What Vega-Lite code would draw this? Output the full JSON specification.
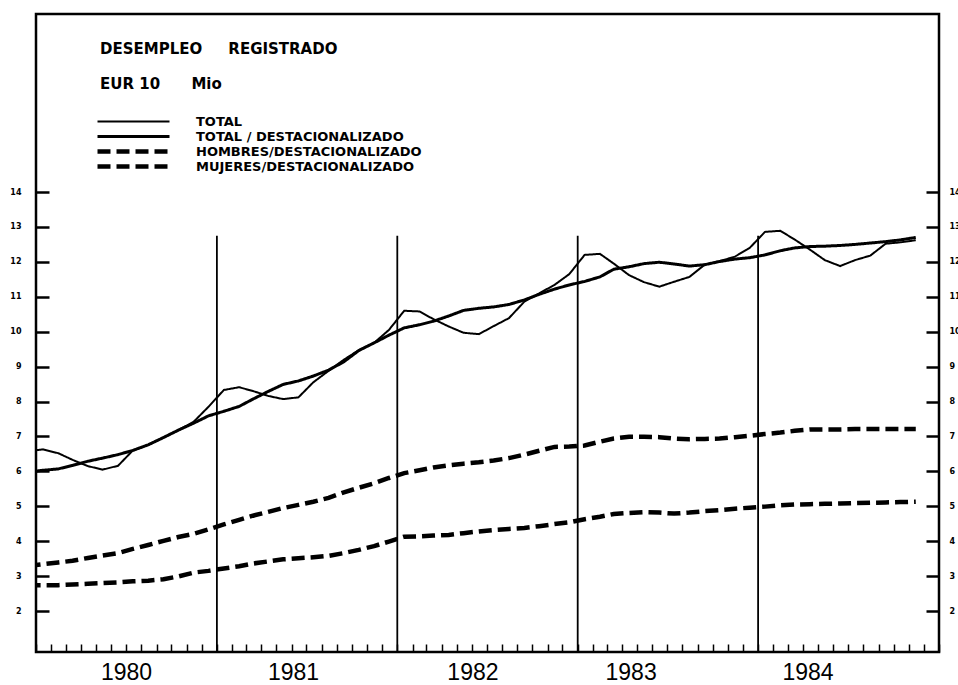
{
  "$schema": "https://vega.github.io/schema/vega-lite/v6.json",
  "width": 903,
  "height": 638,
  "autosize": {"type": "none"},
  "padding": {"left": 36, "top": 14, "right": 19, "bottom": 33},
  "background": "white",
  "config": {"view": {"stroke": "black", "strokeWidth": 2.5}, "font": "DejaVu Sans"},
  "title": {
    "text": "DESEMPLEO\u00a0\u00a0\u00a0\u00a0\u00a0REGISTRADO",
    "subtitle": "EUR 10\u00a0\u00a0\u00a0\u00a0\u00a0\u00a0Mio",
    "anchor": "start",
    "frame": "group",
    "orient": "top",
    "offset": -78,
    "dx": 64,
    "font": "DejaVu Sans",
    "fontSize": 15,
    "fontWeight": "bold",
    "color": "black",
    "subtitleFont": "DejaVu Sans",
    "subtitleFontSize": 15,
    "subtitleFontWeight": "bold",
    "subtitleColor": "black",
    "subtitlePadding": 20
  },
  "datasets": {
    "series": [
      {"d": "1979-12-15", "R": 6.57, "S": 5.98, "H": 3.29, "M": 2.74},
      {"d": "1980-01-15", "R": 6.63, "S": 6.03, "H": 3.34, "M": 2.74},
      {"d": "1980-02-15", "R": 6.52, "S": 6.07, "H": 3.39, "M": 2.74},
      {"d": "1980-03-15", "R": 6.33, "S": 6.17, "H": 3.44, "M": 2.76},
      {"d": "1980-04-15", "R": 6.15, "S": 6.29, "H": 3.52, "M": 2.78},
      {"d": "1980-05-15", "R": 6.05, "S": 6.38, "H": 3.59, "M": 2.80},
      {"d": "1980-06-15", "R": 6.16, "S": 6.48, "H": 3.66, "M": 2.82},
      {"d": "1980-07-15", "R": 6.60, "S": 6.60, "H": 3.78, "M": 2.85},
      {"d": "1980-08-15", "R": 6.76, "S": 6.76, "H": 3.89, "M": 2.87},
      {"d": "1980-09-15", "R": 6.97, "S": 6.97, "H": 4.01, "M": 2.91},
      {"d": "1980-10-15", "R": 7.18, "S": 7.18, "H": 4.12, "M": 2.99},
      {"d": "1980-11-15", "R": 7.42, "S": 7.38, "H": 4.21, "M": 3.10},
      {"d": "1980-12-15", "R": 7.85, "S": 7.59, "H": 4.34, "M": 3.15},
      {"d": "1981-01-15", "R": 8.33, "S": 7.72, "H": 4.48, "M": 3.22},
      {"d": "1981-02-15", "R": 8.41, "S": 7.86, "H": 4.61, "M": 3.28},
      {"d": "1981-03-15", "R": 8.30, "S": 8.07, "H": 4.73, "M": 3.36},
      {"d": "1981-04-15", "R": 8.16, "S": 8.29, "H": 4.84, "M": 3.42},
      {"d": "1981-05-15", "R": 8.07, "S": 8.49, "H": 4.95, "M": 3.48},
      {"d": "1981-06-15", "R": 8.12, "S": 8.59, "H": 5.04, "M": 3.51},
      {"d": "1981-07-15", "R": 8.55, "S": 8.73, "H": 5.13, "M": 3.54},
      {"d": "1981-08-15", "R": 8.88, "S": 8.90, "H": 5.24, "M": 3.58},
      {"d": "1981-09-15", "R": 9.20, "S": 9.14, "H": 5.40, "M": 3.66},
      {"d": "1981-10-15", "R": 9.47, "S": 9.46, "H": 5.53, "M": 3.75},
      {"d": "1981-11-15", "R": 9.68, "S": 9.68, "H": 5.66, "M": 3.86},
      {"d": "1981-12-15", "R": 10.05, "S": 9.90, "H": 5.81, "M": 3.99},
      {"d": "1982-01-15", "R": 10.60, "S": 10.11, "H": 5.95, "M": 4.13},
      {"d": "1982-02-15", "R": 10.58, "S": 10.20, "H": 6.03, "M": 4.14},
      {"d": "1982-03-15", "R": 10.36, "S": 10.30, "H": 6.11, "M": 4.16},
      {"d": "1982-04-15", "R": 10.15, "S": 10.45, "H": 6.17, "M": 4.18},
      {"d": "1982-05-15", "R": 9.97, "S": 10.61, "H": 6.22, "M": 4.23},
      {"d": "1982-06-15", "R": 9.93, "S": 10.67, "H": 6.26, "M": 4.28},
      {"d": "1982-07-15", "R": 10.16, "S": 10.71, "H": 6.31, "M": 4.32},
      {"d": "1982-08-15", "R": 10.39, "S": 10.78, "H": 6.38, "M": 4.35},
      {"d": "1982-09-15", "R": 10.86, "S": 10.91, "H": 6.48, "M": 4.38},
      {"d": "1982-10-15", "R": 11.10, "S": 11.07, "H": 6.59, "M": 4.43},
      {"d": "1982-11-15", "R": 11.34, "S": 11.22, "H": 6.70, "M": 4.49},
      {"d": "1982-12-15", "R": 11.65, "S": 11.34, "H": 6.71, "M": 4.54},
      {"d": "1983-01-15", "R": 12.20, "S": 11.44, "H": 6.74, "M": 4.63},
      {"d": "1983-02-15", "R": 12.23, "S": 11.57, "H": 6.85, "M": 4.70},
      {"d": "1983-03-15", "R": 11.95, "S": 11.79, "H": 6.94, "M": 4.78},
      {"d": "1983-04-15", "R": 11.62, "S": 11.86, "H": 6.99, "M": 4.81},
      {"d": "1983-05-15", "R": 11.42, "S": 11.95, "H": 6.99, "M": 4.83},
      {"d": "1983-06-15", "R": 11.29, "S": 11.99, "H": 6.98, "M": 4.82},
      {"d": "1983-07-15", "R": 11.43, "S": 11.94, "H": 6.94, "M": 4.79},
      {"d": "1983-08-15", "R": 11.57, "S": 11.88, "H": 6.92, "M": 4.82},
      {"d": "1983-09-15", "R": 11.92, "S": 11.92, "H": 6.93, "M": 4.86},
      {"d": "1983-10-15", "R": 12.02, "S": 12.01, "H": 6.94, "M": 4.89},
      {"d": "1983-11-15", "R": 12.15, "S": 12.08, "H": 6.98, "M": 4.93},
      {"d": "1983-12-15", "R": 12.40, "S": 12.12, "H": 7.02, "M": 4.96},
      {"d": "1984-01-15", "R": 12.86, "S": 12.20, "H": 7.07, "M": 4.99},
      {"d": "1984-02-15", "R": 12.89, "S": 12.32, "H": 7.11, "M": 5.03},
      {"d": "1984-03-15", "R": 12.64, "S": 12.40, "H": 7.16, "M": 5.05},
      {"d": "1984-04-15", "R": 12.35, "S": 12.44, "H": 7.20, "M": 5.06},
      {"d": "1984-05-15", "R": 12.05, "S": 12.45, "H": 7.20, "M": 5.07},
      {"d": "1984-06-15", "R": 11.88, "S": 12.47, "H": 7.20, "M": 5.08},
      {"d": "1984-07-15", "R": 12.05, "S": 12.50, "H": 7.21, "M": 5.09},
      {"d": "1984-08-15", "R": 12.18, "S": 12.54, "H": 7.21, "M": 5.10},
      {"d": "1984-09-15", "R": 12.52, "S": 12.58, "H": 7.21, "M": 5.11},
      {"d": "1984-10-15", "R": 12.56, "S": 12.63, "H": 7.21, "M": 5.12},
      {"d": "1984-11-15", "R": 12.62, "S": 12.70, "H": 7.21, "M": 5.13}
    ],
    "years": [
      {"date": "1981-01-01"},
      {"date": "1982-01-01"},
      {"date": "1983-01-01"},
      {"date": "1984-01-01"}
    ]
  },
  "resolve": {"axis": {"x": "independent", "y": "independent"}},
  "layer": [
    {
      "data": {"name": "series"},
      "transform": [{"fold": ["R", "S", "H", "M"], "as": ["serie", "v"]}],
      "mark": {"type": "line", "color": "black", "clip": true},
      "encoding": {
        "x": {
          "field": "d",
          "type": "temporal",
          "scale": {"domain": [{"year": 1980, "month": 1, "date": 1, "utc": true}, {"year": 1985, "month": 1, "date": 1, "utc": true}]},
          "axis": {"orient": "bottom", "tickCount": {"interval": "month", "step": 1}, "labels": false, "domain": false, "grid": false, "tickSize": -8, "tickWidth": 1.5, "tickColor": "black", "title": null}
        },
        "y": {
          "field": "v",
          "type": "quantitative",
          "scale": {"domain": [0.826, 19.1], "nice": false, "zero": false},
          "axis": {"orient": "left", "values": [2, 3, 4, 5, 6, 7, 8, 9, 10, 11, 12, 13, 14], "title": null, "domain": false, "grid": false, "tickSize": -13, "tickWidth": 2.5, "tickColor": "black", "labelPadding": 28, "labelFont": "DejaVu Sans", "labelFontSize": 8, "labelFontWeight": "bold", "labelColor": "black"}
        },
        "strokeDash": {
          "field": "serie",
          "type": "nominal",
          "scale": {"domain": ["R", "S", "H", "M"], "range": [[1, 0], [1, 0], [13, 6], [13, 6]]},
          "legend": {"orient": "none", "legendX": 59, "legendY": 101, "title": null, "symbolType": "stroke", "symbolSize": 5184, "symbolStrokeColor": "black", "clipHeight": 13, "rowPadding": 1, "labelOffset": 24, "labelFont": "DejaVu Sans", "labelFontSize": 13, "labelFontWeight": "bold", "labelColor": "black", "labelLimit": 500, "padding": 0,
            "labelExpr": "datum.label == 'R' ? 'TOTAL' : datum.label == 'S' ? 'TOTAL / DESTACIONALIZADO' : datum.label == 'H' ? 'HOMBRES/DESTACIONALIZADO' : 'MUJERES/DESTACIONALIZADO'"}
        },
        "strokeWidth": {
          "field": "serie",
          "type": "nominal",
          "scale": {"type": "ordinal", "domain": ["R", "S", "H", "M"], "range": [2, 3, 4.5, 4.5]},
          "legend": {"orient": "none", "legendX": 59, "legendY": 101, "title": null, "symbolType": "stroke", "symbolSize": 5184, "symbolStrokeColor": "black", "clipHeight": 13, "rowPadding": 1, "labelOffset": 24, "labelFont": "DejaVu Sans", "labelFontSize": 13, "labelFontWeight": "bold", "labelColor": "black", "labelLimit": 500, "padding": 0,
            "labelExpr": "datum.label == 'R' ? 'TOTAL' : datum.label == 'S' ? 'TOTAL / DESTACIONALIZADO' : datum.label == 'H' ? 'HOMBRES/DESTACIONALIZADO' : 'MUJERES/DESTACIONALIZADO'"}
        }
      }
    },
    {
      "data": {"name": "years"},
      "mark": {"type": "rule", "color": "black", "strokeWidth": 1.8},
      "encoding": {
        "x": {
          "field": "date",
          "type": "temporal",
          "scale": {"domain": [{"year": 1980, "month": 1, "date": 1, "utc": true}, {"year": 1985, "month": 1, "date": 1, "utc": true}]},
          "axis": {"orient": "bottom", "values": [{"year": 1980, "month": 7, "date": 1, "utc": true}, {"year": 1981, "month": 6, "date": 4, "utc": true}, {"year": 1982, "month": 6, "date": 2, "utc": true}, {"year": 1983, "month": 4, "date": 18, "utc": true}, {"year": 1984, "month": 4, "date": 10, "utc": true}], "format": "%Y", "ticks": false, "domain": false, "grid": false, "labelPadding": 9, "labelFont": "Liberation Sans", "labelFontSize": 23, "labelColor": "black", "title": null, "labelFlush": false, "labelOverlap": false}
        },
        "y": {
          "datum": 12.75,
          "type": "quantitative",
          "scale": {"domain": [0.826, 19.1], "nice": false, "zero": false},
          "axis": {"orient": "right", "values": [2, 3, 4, 5, 6, 7, 8, 9, 10, 11, 12, 13, 14], "title": null, "domain": false, "grid": false, "tickSize": -13, "tickWidth": 2.5, "tickColor": "black", "labelPadding": 23, "labelFont": "DejaVu Sans", "labelFontSize": 8, "labelFontWeight": "bold", "labelColor": "black"}
        },
        "y2": {"datum": 0.826}
      }
    }
  ]
}
